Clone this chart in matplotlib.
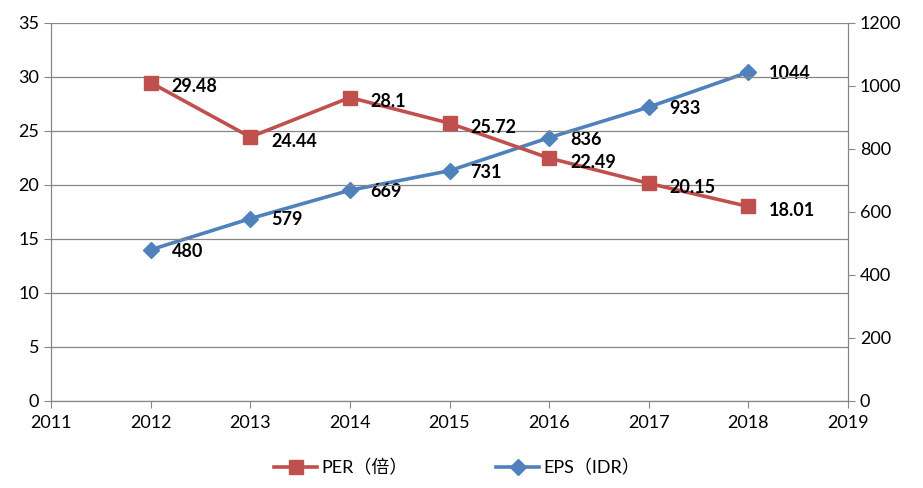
import matplotlib.pyplot as plt

plt.rcParams['font.family'] = ['Lato', 'Noto Sans CJK SC', 'DejaVu Sans']

# data
years = [2012, 2013, 2014, 2015, 2016, 2017, 2018]
per = [29.48, 24.44, 28.1, 25.72, 22.49, 20.15, 18.01]
eps = [480, 579, 669, 731, 836, 933, 1044]
per_labels = ['29.48', '24.44', '28.1', '25.72', '22.49', '20.15', '18.01']
eps_labels = ['480', '579', '669', '731', '836', '933', '1044']

red = '#C0504D'
blue = '#4F81BD'
gray = '#868686'

fig = plt.figure(figsize=(9.23, 4.88), dpi=100)
ax = fig.add_axes([0.0553, 0.1783, 0.8634, 0.7746])
ax2 = ax.twinx()

l1, = ax.plot(years, per, color=red, lw=2.6, marker='s', markersize=10,
              label='PER（倍）')
l2, = ax2.plot(years, eps, color=blue, lw=2.6, marker='D', markersize=8,
               label='EPS（IDR）')

for x, y, t in zip(years, per, per_labels):
    ax.annotate(t, (x, y), xytext=(15, -3), textcoords='offset points',
                ha='left', va='center', fontsize=13, fontweight='bold')
for x, y, t in zip(years, eps, eps_labels):
    ax2.annotate(t, (x, y), xytext=(15, -1), textcoords='offset points',
                 ha='left', va='center', fontsize=13, fontweight='bold')

ax.set_xlim(2011, 2019)
ax.set_ylim(0, 35)
ax2.set_ylim(0, 1200)
ax.set_xticks(range(2011, 2020))
ax.set_yticks(range(0, 36, 5))
ax2.set_yticks(range(0, 1201, 200))

ax.grid(axis='y', color=gray, lw=0.9)
ax.set_axisbelow(True)

for a in (ax, ax2):
    a.spines['top'].set_visible(False)
    for s in ('left', 'right', 'bottom'):
        a.spines[s].set_color(gray)
    a.tick_params(colors=gray, labelcolor='black', labelsize=13, length=5)
ax.tick_params(axis='x', pad=5)
ax.set_zorder(ax2.get_zorder() + 1)
ax.patch.set_visible(False)

fig.legend(handles=[l1, l2], loc='lower center', ncol=2, frameon=False,
           fontsize=13, bbox_to_anchor=(0.495, -0.01), columnspacing=4.9,
           handlelength=2.4, handletextpad=0.2)

fig.savefig('out.png', dpi=100)
